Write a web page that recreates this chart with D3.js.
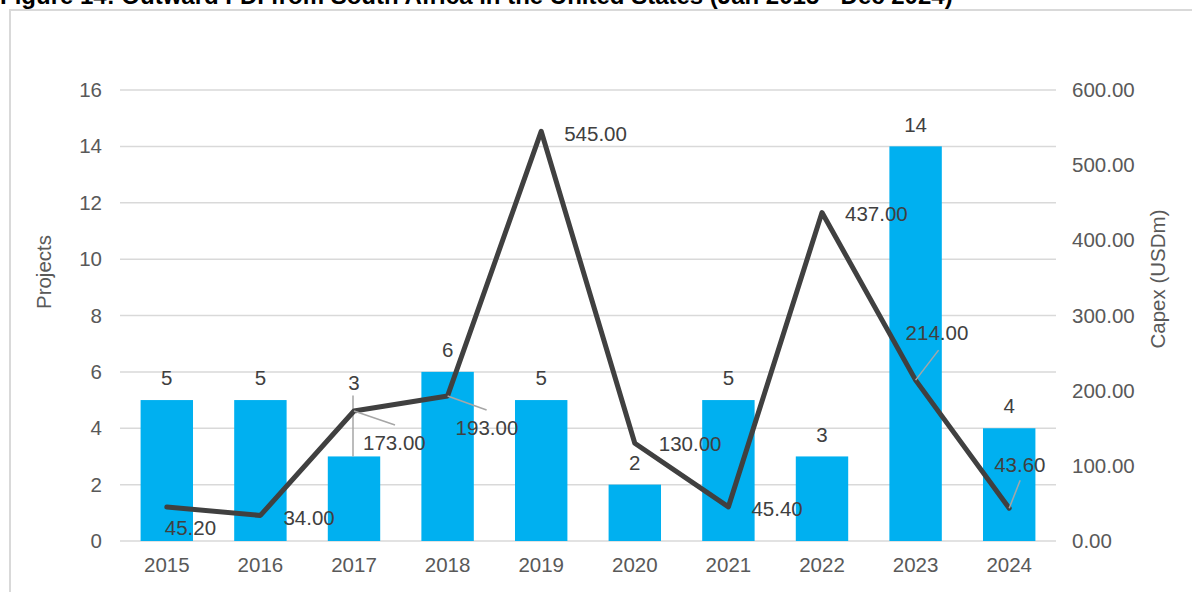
<!DOCTYPE html>
<html>
<head>
<meta charset="utf-8">
<script src="https://cdn.jsdelivr.net/npm/d3@7"></script>
<style>
  body { margin: 0; background: #fff; }
  svg { display: block; font-family: Arial, "Liberation Sans", sans-serif; }
</style>
</head>
<body>
<script>
(function (){

    //chart data
    var years = ["2015", "2016", "2017", "2018", "2019", "2020", "2021", "2022", "2023", "2024"];
    var projects = [5, 5, 3, 6, 5, 2, 5, 3, 14, 4];
    var capex = [45.2, 34.0, 173.0, 193.0, 545.0, 130.0, 45.4, 437.0, 214.0, 43.6];
    var leftTicks = [0, 2, 4, 6, 8, 10, 12, 14, 16];
    var rightTicks = [0, 100, 200, 300, 400, 500, 600];

    //label placement (offset from the point), leader = draw a callout line
    var capexLabelPos = [
        {dx: -2, dy: 21}, {dx: 23, dy: 2}, {dx: 9, dy: 32, leader: [41, 14]},
        {dx: 8, dy: 32, leader: [39, 14]}, {dx: 23, dy: 2}, {dx: 24, dy: 1},
        {dx: 23, dy: 2}, {dx: 23, dy: 1}, {dx: -10, dy: -47, leader: [23, -30]},
        {dx: -15, dy: -43, leader: [11, -28]}
    ];
    var projLabelLift = [22, 22, 74, 22, 22, 22, 22, 22, 22, 22];

    var width = 1192, height = 592;
    var left = 120, right = 1056, top = 90, bottom = 541;

    var svg = d3.select("body").append("svg")
        .attr("width", width)
        .attr("height", height);

    //outer frame
    svg.append("rect")
        .attr("x", 10).attr("y", 10)
        .attr("width", 1200).attr("height", 600)
        .attr("fill", "none")
        .attr("stroke", "#d9d9d9")
        .attr("stroke-width", 2);

    //title, partly above the window (as in the source)
    svg.append("text")
        .attr("x", 0).attr("y", 4)
        .attr("font-size", 24)
        .attr("font-weight", "bold")
        .attr("fill", "#000")
        .text("Figure 14: Outward FDI from South Africa in the United States (Jan 2015 - Dec 2024)");

    var x = d3.scaleBand()
        .domain(years)
        .range([left, right])
        .paddingInner(0.44)
        .paddingOuter(0.22);

    var yL = d3.scaleLinear().domain([0, 16]).range([bottom, top]);
    var yR = d3.scaleLinear().domain([0, 600]).range([bottom, top]);

    //gridlines
    svg.append("g").selectAll("line")
        .data(leftTicks)
        .enter().append("line")
        .attr("x1", left).attr("x2", right)
        .attr("y1", function(d){ return yL(d); })
        .attr("y2", function(d){ return yL(d); })
        .attr("stroke", "#d9d9d9")
        .attr("stroke-width", 1.5);

    //left axis
    var axisL = svg.append("g")
        .attr("transform", "translate(" + (left - 18) + ",0)")
        .call(d3.axisLeft(yL).tickValues(leftTicks).tickSize(0).tickPadding(0));
    //right axis
    var axisR = svg.append("g")
        .attr("transform", "translate(" + (right + 16) + ",0)")
        .call(d3.axisRight(yR).tickValues(rightTicks).tickSize(0).tickPadding(0)
            .tickFormat(d3.format(".2f")));
    //x axis
    var axisX = svg.append("g")
        .attr("transform", "translate(0," + (bottom + 12) + ")")
        .call(d3.axisBottom(x).tickSize(0).tickPadding(0));

    [axisL, axisR, axisX].forEach(function(a){
        a.select(".domain").remove();
        a.selectAll("text")
            .attr("font-size", 20.5)
            .attr("font-family", "Arial, 'Liberation Sans', sans-serif")
            .attr("fill", "#595959");
    });
    axisX.selectAll("text").attr("dy", "0.95em");

    //axis titles
    svg.append("text")
        .attr("transform", "translate(51,272) rotate(-90)")
        .attr("text-anchor", "middle")
        .attr("font-size", 20.5)
        .attr("fill", "#595959")
        .text("Projects");
    svg.append("text")
        .attr("transform", "translate(1165,279) rotate(-90)")
        .attr("text-anchor", "middle")
        .attr("font-size", 20.5)
        .attr("fill", "#595959")
        .text("Capex (USDm)");

    //bars
    svg.append("g").selectAll("rect")
        .data(projects)
        .enter().append("rect")
        .attr("x", function(d, i){ return x(years[i]); })
        .attr("width", x.bandwidth())
        .attr("y", function(d){ return yL(d); })
        .attr("height", function(d){ return yL(0) - yL(d); })
        .attr("fill", "#00b0f0");

    //bar labels
    var cx = function(i){ return x(years[i]) + x.bandwidth() / 2; };
    projects.forEach(function(d, i){
        if (projLabelLift[i] > 30) {
            svg.append("line")
                .attr("x1", cx(i) - 1).attr("x2", cx(i) - 1)
                .attr("y1", yL(d) - projLabelLift[i] + 13)
                .attr("y2", yL(d))
                .attr("stroke", "#a6a6a6")
                .attr("stroke-width", 1.5);
        }
        svg.append("text")
            .attr("x", cx(i))
            .attr("y", yL(d) - projLabelLift[i])
            .attr("dy", "0.35em")
            .attr("text-anchor", "middle")
            .attr("font-size", 20.5)
            .attr("fill", "#404040")
            .text(d);
    });

    //capex line
    var line = d3.line()
        .x(function(d, i){ return cx(i); })
        .y(function(d){ return yR(d); });

    svg.append("path")
        .datum(capex)
        .attr("d", line)
        .attr("fill", "none")
        .attr("stroke", "#404040")
        .attr("stroke-width", 5)
        .attr("stroke-linejoin", "round")
        .attr("stroke-linecap", "round");

    //capex labels
    capex.forEach(function(d, i){
        var p = capexLabelPos[i], px = cx(i), py = yR(d);
        if (p.leader) {
            svg.append("line")
                .attr("x1", px).attr("y1", py)
                .attr("x2", px + p.leader[0]).attr("y2", py + p.leader[1])
                .attr("stroke", "#a6a6a6")
                .attr("stroke-width", 1.5);
        }
        svg.append("text")
            .attr("x", px + p.dx)
            .attr("y", py + p.dy)
            .attr("dy", "0.35em")
            .attr("font-size", 20.5)
            .attr("fill", "#404040")
            .text(d3.format(".2f")(d));
    });

})();
</script>
</body>
</html>
